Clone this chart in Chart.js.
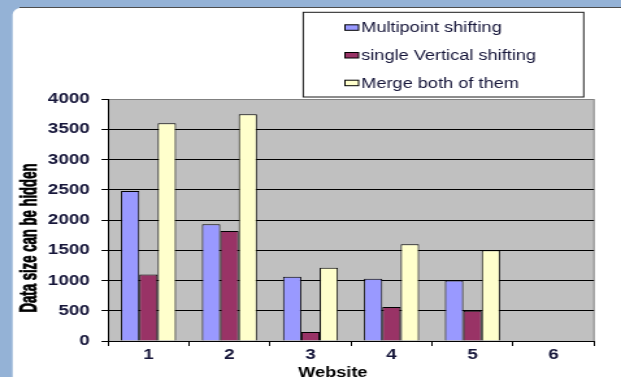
<!DOCTYPE html>
<html>
<head>
<meta charset="utf-8">
<script src="https://cdn.jsdelivr.net/npm/chart.js@4.4.1/dist/chart.umd.min.js"></script>
<style>
  html, body { margin: 0; padding: 0; overflow: hidden; background: #94b2d6; }
  /* the original picture is stretched sideways, so the canvas is too */
  #Website { display: block; transform: scaleX(1.2992); transform-origin: 0 0; }
</style>
</head>
<body>
<canvas id="Website" width="478" height="377"></canvas>
<script>
    var websites = ['1', '2', '3', '4', '5', '6'];
    var seriesNames = ['Multipoint shifting', 'single Vertical shifting', 'Merge both of them'];
    var multipoint = [2480, 1930, 1060, 1030, 1000, null];
    var singleVertical = [1100, 1820, 150, 560, 500, null];
    var mergeBoth = [3600, 3750, 1210, 1600, 1500, null];
    var yMax = 4000;
    var yStep = 500;

    var textColor = '#16163a';

    var frame = {
        id: 'frame',
        beforeDraw: function (chart) {
            var ctx = chart.ctx;
            var a = chart.chartArea;
            ctx.save();
            ctx.fillStyle = '#94b2d6';
            ctx.fillRect(0, 0, chart.width, chart.height);
            // white slide panel
            ctx.fillStyle = '#ffffff';
            ctx.beginPath();
            ctx.roundRect(9.7, 7.8, chart.width, chart.height, [7, 0, 0, 0]);
            ctx.fill();
            ctx.strokeStyle = '#4d4d4d';
            ctx.lineWidth = 1;
            ctx.beginPath();
            ctx.moveTo(15, 7.5);
            ctx.lineTo(chart.width, 7.5);
            ctx.stroke();
            // plot area
            ctx.fillStyle = '#c0c0c0';
            ctx.fillRect(a.left, a.top, a.right - a.left, a.bottom - a.top);
            ctx.strokeStyle = '#808080';
            ctx.strokeRect(a.left + 0.5, a.top + 0.5, a.right - a.left - 0.5, a.bottom - a.top);
            ctx.restore();
        },
        afterDraw: function (chart) {
            var ctx = chart.ctx;
            var a = chart.chartArea;
            ctx.save();

            // legend box
            ctx.fillStyle = '#ffffff';
            ctx.fillRect(233.4, 12.3, 215.9, 84.7);
            ctx.strokeStyle = '#1a1a1a';
            ctx.lineWidth = 1;
            ctx.strokeRect(233.4, 12.3, 215.9, 84.7);
            ctx.font = '14px "Liberation Sans", Arial, sans-serif';
            ctx.textBaseline = 'alphabetic';
            ctx.textAlign = 'left';
            chart.data.datasets.forEach(function (ds, i) {
                var base = 32.3 + i * 27.7;
                ctx.fillStyle = ds.backgroundColor;
                ctx.fillRect(265.5, base - 7.5, 10.5, 5.5);
                ctx.strokeStyle = '#000';
                ctx.strokeRect(265.5, base - 7.5, 10.5, 5.5);
                ctx.fillStyle = textColor;
                ctx.fillText(ds.label, 278, base);
            });

            // axis titles
            ctx.fillStyle = '#000';
            ctx.font = 'bold 14px "Liberation Sans", Arial, sans-serif';
            ctx.textAlign = 'center';
            ctx.fillText('Website', (a.left + a.right) / 2 - 14, 377);

            // y title, narrow bold like the original
            ctx.translate(28.3, 238);
            ctx.rotate(-Math.PI / 2);
            ctx.scale(0.73, 1);
            ctx.font = 'bold 18px "Liberation Sans", Arial, sans-serif';
            ctx.textBaseline = 'alphabetic';
            ctx.strokeStyle = '#000';
            ctx.lineWidth = 0.7;
            ctx.fillText('Data size can be hidden', 0, 0);
            ctx.strokeText('Data size can be hidden', 0, 0);
            ctx.restore();
        }
    };

    function Website()
    {
        var chartdata = {
            labels: websites,
            datasets: [
                {
                    label: seriesNames[0],
                    backgroundColor: '#9999ff',
                    data: multipoint
                },
                {
                    label: seriesNames[1],
                    backgroundColor: '#993366',
                    data: singleVertical
                },
                {
                    label: seriesNames[2],
                    backgroundColor: '#ffffcc',
                    data: mergeBoth
                }
            ]
        };

        var tickFont = { family: '"Liberation Sans", Arial, sans-serif', size: 14.5, weight: 'bold' };

        new Chart(document.getElementById('Website'), {
            type: 'bar',
            data: chartdata,
            plugins: [frame],
            options: {
                responsive: false,
                animation: false,
                devicePixelRatio: 1,
                layout: { padding: { left: 0, top: 99, right: 20.8, bottom: 0 } },
                datasets: {
                    bar: {
                        borderColor: '#000',
                        borderWidth: 1,
                        categoryPercentage: 0.68,
                        barPercentage: 1.0
                    }
                },
                plugins: {
                    legend: { display: false },
                    tooltip: { enabled: false },
                    title: { display: false }
                },
                scales: {
                    x: {
                        afterFit: function (scale) { scale.height = 36; },
                        grid: {
                            offset: true,
                            drawOnChartArea: false,
                            drawTicks: true,
                            tickLength: 5,
                            tickColor: '#000'
                        },
                        border: { color: '#000', width: 1 },
                        ticks: { color: textColor, font: tickFont, padding: 0 }
                    },
                    y: {
                        min: 0,
                        max: yMax,
                        afterFit: function (scale) { scale.width = 83.1; },
                        grid: {
                            color: function (c) { return c.tick && c.tick.value === yMax ? '#808080' : '#000'; },
                            lineWidth: 1,
                            drawTicks: true,
                            tickLength: 5,
                            tickColor: '#000'
                        },
                        border: { color: '#000', width: 1 },
                        ticks: {
                            stepSize: yStep,
                            color: textColor,
                            font: tickFont,
                            padding: 9,
                            callback: function (v) { return String(v); }
                        }
                    }
                }
            }
        });
    }

    Website();
</script>
</body>
</html>
